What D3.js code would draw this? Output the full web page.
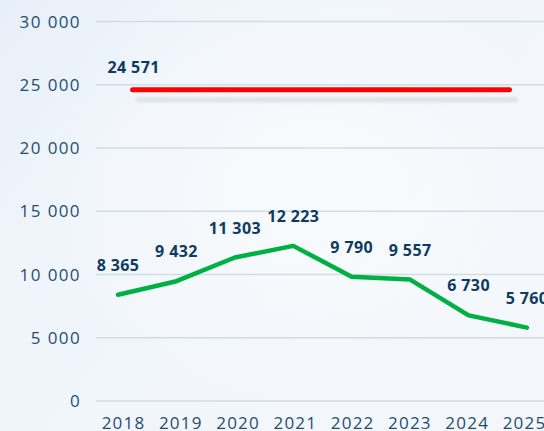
<!DOCTYPE html>
<html>
<head>
<meta charset="utf-8">
<script src="https://cdn.jsdelivr.net/npm/d3@7"></script>
<style>
  html, body { margin: 0; padding: 0; }
  body { width: 544px; height: 431px; overflow: hidden; }
  svg { display: block; }
</style>
</head>
<body>
<svg id="chart" width="544" height="431"></svg>
<script>
// ---- data ----
const years = [2018, 2019, 2020, 2021, 2022, 2023, 2024, 2025];
const values = [8365, 9432, 11303, 12223, 9790, 9557, 6730, 5760];
const refValue = 24571;
const refSpan = [2018.25, 2024.7];
const yTicks = [0, 5000, 10000, 15000, 20000, 25000, 30000];

const W = 544, H = 431;
const svg = d3.select("#chart");
const defs = svg.append("defs");

// background
const bg = defs.append("linearGradient").attr("id", "bg")
  .attr("x1", "0").attr("y1", "0").attr("x2", "1").attr("y2", "0.6");
bg.append("stop").attr("offset", "0%").attr("stop-color", "#e7eff8");
bg.append("stop").attr("offset", "30%").attr("stop-color", "#f0f5fb");
bg.append("stop").attr("offset", "100%").attr("stop-color", "#f3f7fb");
svg.append("rect").attr("width", W).attr("height", H).attr("fill", "url(#bg)");
const glow = defs.append("radialGradient").attr("id", "glow")
  .attr("cx", "0.58").attr("cy", "0.45").attr("r", "0.5");
glow.append("stop").attr("offset", "0%").attr("stop-color", "#f8fbfd").attr("stop-opacity", 1);
glow.append("stop").attr("offset", "100%").attr("stop-color", "#f8fbfd").attr("stop-opacity", 0);
svg.append("rect").attr("width", W).attr("height", H).attr("fill", "url(#glow)");

const blur = defs.append("filter").attr("id", "blur")
  .attr("filterUnits", "userSpaceOnUse")
  .attr("x", 0).attr("y", 0).attr("width", W).attr("height", H);
blur.append("feGaussianBlur").attr("stdDeviation", 1.4);

// scales
const x = d3.scaleLinear().domain([2018, 2025]).range([118, 527]);
const xLab = d3.scaleLinear().domain([2018, 2025]).range([123, 524]);
const y = d3.scaleLinear().domain([0, 30000]).range([400.5, 21]);

const axisFont = "'Open Sans', sans-serif";
const fmt = v => d3.format(",")(v).replace(/,/g, " ");

// y labels
const yAxis = d3.axisLeft(y).tickValues(yTicks).tickSize(0).tickPadding(0)
  .tickFormat(fmt);
const gy = svg.append("g").attr("transform", "translate(80,0)").call(yAxis);
gy.select(".domain").remove();
gy.selectAll("text")
  .attr("x", 1)
  .attr("dy", "0.36em")
  .style("font-family", axisFont)
  .style("font-size", "17px")
  .style("letter-spacing", "1.4px")
  .attr("fill", "#1f4d70");

// grid
const grid = d3.axisLeft(y).tickValues(yTicks).tickSize(-(W - 96)).tickFormat("");
const gg = svg.append("g").attr("transform", "translate(96,0)").call(grid);
gg.select(".domain").remove();
gg.selectAll("line").attr("stroke", "#d0dce6").attr("stroke-width", 1.6);

// x labels
const xAxis = d3.axisBottom(xLab).tickValues(years).tickSize(0).tickPadding(0)
  .tickFormat(d3.format("d"));
const gx = svg.append("g").call(xAxis);
gx.select(".domain").remove();
gx.selectAll("text")
  .attr("y", 429)
  .attr("dy", 0)
  .style("font-family", axisFont)
  .style("font-size", "17px")
  .style("letter-spacing", "1.2px")
  .attr("fill", "#1f4d70");

// reference line shadow + line
svg.append("line")
  .attr("x1", x(refSpan[0]) + 6).attr("x2", x(refSpan[1]) + 6)
  .attr("y1", y(refValue) + 10).attr("y2", y(refValue) + 10)
  .attr("stroke", "#dde2e7").attr("stroke-width", 5).attr("stroke-linecap", "round")
  .attr("filter", "url(#blur)");
svg.append("line")
  .attr("x1", x(refSpan[0])).attr("x2", x(refSpan[1]))
  .attr("y1", y(refValue)).attr("y2", y(refValue))
  .attr("stroke", "#ff0000").attr("stroke-width", 5).attr("stroke-linecap", "round");

svg.append("text")
  .attr("x", x(refSpan[0]) + 1).attr("y", y(refValue) - 17)
  .attr("text-anchor", "middle")
  .style("font-family", axisFont).style("font-weight", 700)
  .style("font-size", "16px").style("letter-spacing", "0.4px")
  .attr("fill", "#0e3b5f")
  .text(fmt(refValue));

// green series
const data = years.map((yr, i) => ({ yr, v: values[i] }));
const line = d3.line().x(d => x(d.yr)).y(d => y(d.v));
svg.append("path").datum(data)
  .attr("d", line)
  .attr("fill", "none")
  .attr("stroke", "#00b043").attr("stroke-width", 4.5)
  .attr("stroke-linejoin", "round").attr("stroke-linecap", "round");

svg.append("g").selectAll("text").data(data).join("text")
  .attr("x", d => x(d.yr))
  .attr("y", d => y(d.v) - 24)
  .attr("text-anchor", "middle")
  .style("font-family", axisFont).style("font-weight", 700)
  .style("font-size", "16px").style("letter-spacing", "0.4px")
  .attr("fill", "#0e3b5f")
  .text(d => fmt(d.v));
</script>
</body>
</html>
